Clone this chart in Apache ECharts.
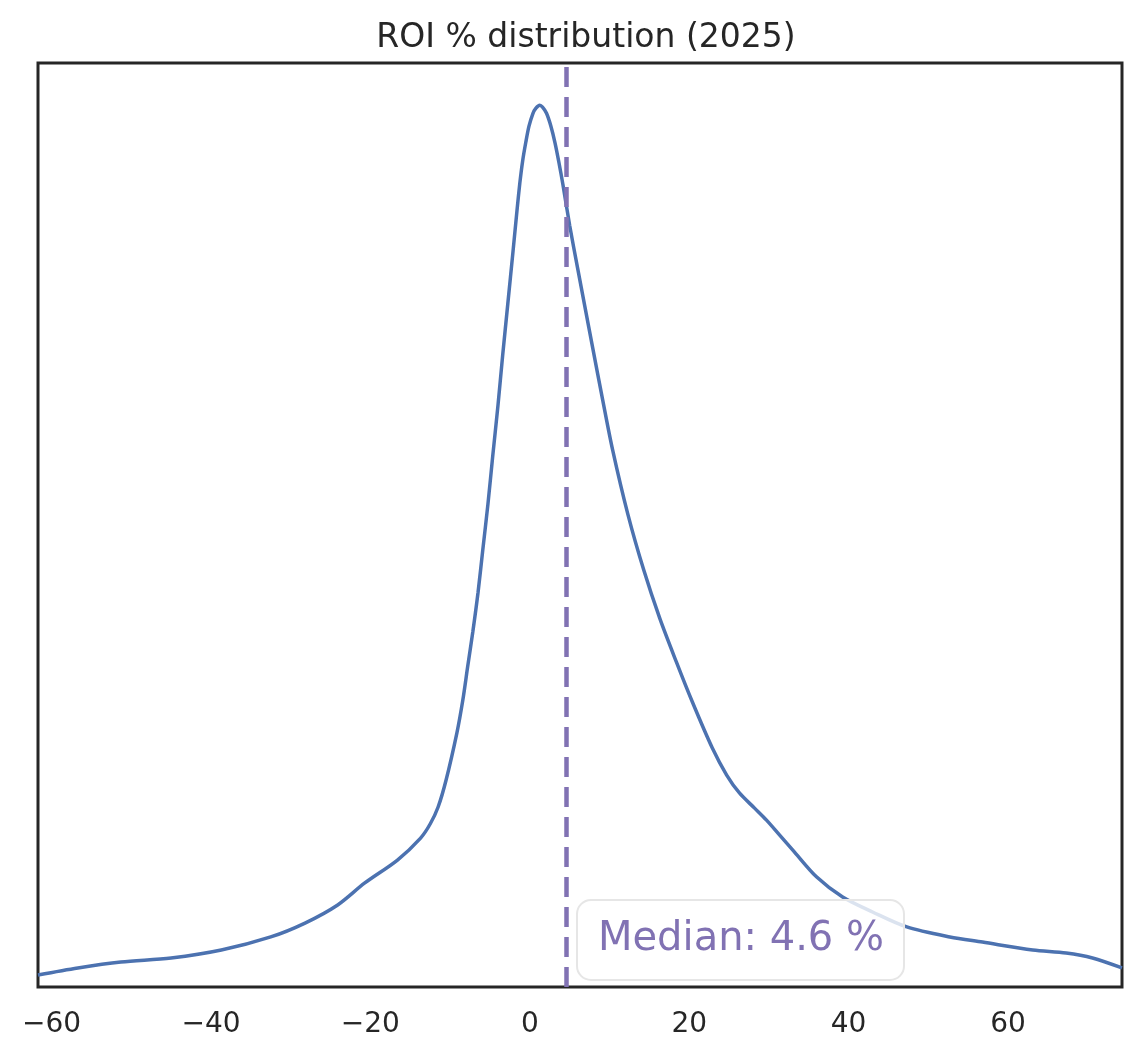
<!DOCTYPE html>
<html>
<head>
<meta charset="utf-8">
<title>ROI % distribution (2025)</title>
<script src="https://cdn.jsdelivr.net/npm/echarts@6/dist/echarts.min.js"></script>
<style>
    html, body { margin: 0; padding: 0; background: #ffffff; }
    #chart_roi { width: 1143px; height: 1062px; }
</style>
</head>
<body>
<div id="chart_roi"></div>
<script>
// ROI values (%) and the KDE density (x 10^-3)
var roiX = [-61.7, -56.7, -51.3, -45.0, -38.7, -32.5, -28.2, -24.1, -20.7, -16.6,
    -13.7, -12.5, -11.5, -10.5, -9.15, -8.4, -7.8, -7.15, -6.5, -5.9,
    -5.25, -4.65, -4.0, -3.4, -2.75, -2.1, -1.6, -1.25, -0.9, -0.5,
    -0.1, 0.4, 0.75, 1.25, 1.6, 2.1, 2.65, 3.15, 3.65, 4.15,
    5.0, 6.0, 6.9, 7.9, 9.15, 10.4, 12.3, 14.3, 16.3, 18.4,
    20.4, 22.9, 24.7, 26.3, 28.2, 29.7, 31.35, 33.0, 36.0, 39.25,
    43.0, 47.3, 52.7, 56.8, 63.1, 67.3, 70.6, 74.3];
var densityY = [0.65, 1.03, 1.35, 1.57, 2.00, 2.71, 3.46, 4.44, 5.63, 6.87,
    8.06, 8.82, 9.74, 11.20, 13.74, 15.53, 17.31, 19.21, 21.32, 23.64,
    26.13, 28.73, 31.43, 34.19, 37.00, 39.82, 42.04, 43.50, 44.69, 45.71,
    46.58, 47.28, 47.55, 47.72, 47.61, 47.28, 46.58, 45.71, 44.63, 43.44,
    41.22, 38.90, 36.84, 34.57, 31.76, 29.05, 25.59, 22.56, 19.96, 17.58,
    15.42, 12.93, 11.47, 10.50, 9.68, 9.03, 8.22, 7.41, 5.95, 4.87,
    4.06, 3.25, 2.71, 2.43, 2.00, 1.84, 1.57, 1.03];
var xTicks = [-60, -40, -20, 0, 20, 40, 60];
var medianRoi = 4.6;

var lineColor = '#4c72b0';
var medianColor = '#8172b3';
var textColor = '#262626';

var chart_roi = null;

function buildSeriesData() {
    var arr = [];
    for (var i = 0; i < roiX.length; i++) {
        arr.push([roiX[i], densityY[i]]);
    }
    return arr;
}

function initRoiChart() {
    chart_roi = echarts.init(document.getElementById('chart_roi'), null, { renderer: 'canvas' });

    var option = {
        backgroundColor: '#ffffff',
        animation: false,
        textStyle: { fontFamily: 'DejaVu Sans' },
        title: [
            {
                text: 'ROI % distribution (2025)',
                left: 581,
                top: 17,
                textAlign: 'center',
                textStyle: { color: textColor, fontSize: 33, fontWeight: 'normal', fontFamily: 'DejaVu Sans' }
            },
            {
                text: 'Median: ' + medianRoi + ' %',
                left: 577,
                top: 900,
                padding: [20, 20, 20, 21],
                backgroundColor: 'rgba(255,255,255,0.8)',
                borderColor: '#e6e6e6',
                borderWidth: 2,
                borderRadius: 14,
                textStyle: { color: medianColor, fontSize: 40, lineHeight: 40, fontWeight: 'normal', fontFamily: 'DejaVu Sans' }
            }
        ],
        grid: {
            left: 38,
            right: 21,
            top: 63,
            bottom: 75,
            show: true,
            borderColor: textColor,
            borderWidth: 3,
            backgroundColor: '#ffffff'
        },
        xAxis: {
            type: 'value',
            min: -61.7,
            max: 74.3,
            axisLine: { show: false },
            axisTick: { show: false },
            splitLine: { show: false },
            axisLabel: {
                customValues: xTicks,
                margin: 24,
                color: textColor,
                fontSize: 28,
                fontFamily: 'DejaVu Sans',
                formatter: function (v) {
                    return String(v).replace('-', '\u2212');
                }
            }
        },
        yAxis: {
            type: 'value',
            min: 0,
            max: 50,
            show: false
        },
        series: [
            {
                name: 'ROI',
                type: 'line',
                data: buildSeriesData(),
                showSymbol: false,
                smooth: 0.3,
                lineStyle: { color: lineColor, width: 3.5 },
                markLine: {
                    silent: true,
                    symbol: ['none', 'none'],
                    label: { show: false },
                    lineStyle: { color: medianColor, width: 4.5, type: [20, 10] },
                    data: [{ xAxis: medianRoi }]
                }
            }
        ]
    };
    chart_roi.setOption(option);
}

initRoiChart();
</script>
</body>
</html>
